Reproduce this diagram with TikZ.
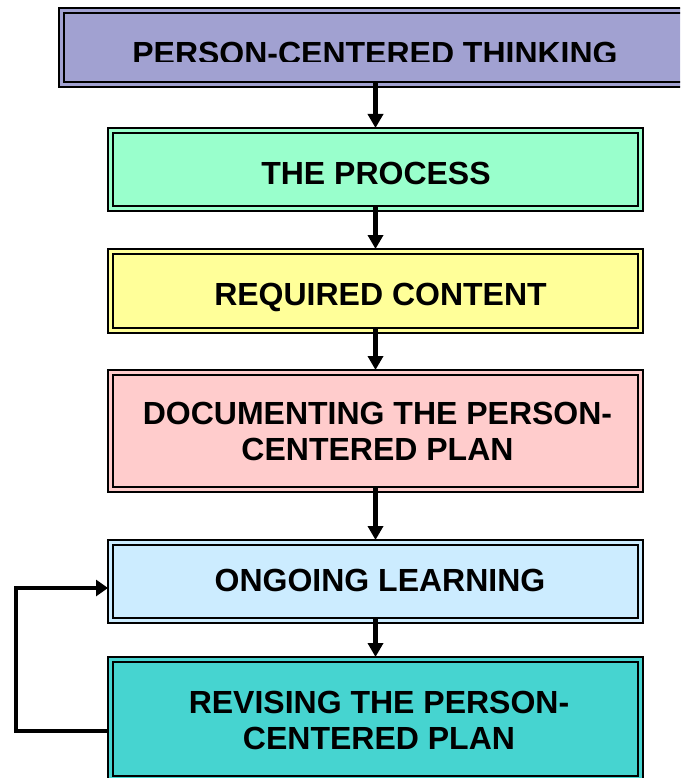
\documentclass[tikz,border=0pt]{standalone}
\usepackage{fontspec}
\setmainfont{Liberation Sans}
\usetikzlibrary{arrows.meta,calc}
\definecolor{fillthink}{RGB}{161,161,209}
\definecolor{fillprocess}{RGB}{153,255,204}
\definecolor{fillcontent}{RGB}{255,255,153}
\definecolor{filldoc}{RGB}{255,204,204}
\definecolor{filllearn}{RGB}{204,236,255}
\definecolor{fillrevise}{RGB}{70,212,208}
\begin{document}
\begin{tikzpicture}[x=1pt,y=-1pt,
  box/.style={draw=black, line width=1.6pt, inner sep=0pt, outer sep=0pt,
              minimum width=535pt},
  innerline/.style={draw=black, line width=2.4pt},
  boxtext/.style={font=\bfseries\fontsize{32}{36}\selectfont, inner sep=0pt,
                  align=center},
  flow/.style={line width=4.5pt, -{Triangle[length=14pt,width=15pt]}},
  backflow/.style={line width=4.5pt, -{Triangle[length=12pt,width=16pt]}},
]
\useasboundingbox (0,0) rectangle (680,778);
\clip (0,0) rectangle (680,778);

% outer frames with fill
\node[box, fill=fillthink,   minimum width=641pt, minimum height=79pt]  (b1) at (379.5,47.5) {};
\node[box, fill=fillprocess, minimum height=83pt]  (b2) at (375.5,169.5) {};
\node[box, fill=fillcontent, minimum height=84pt]  (b3) at (375.5,291) {};
\node[box, fill=filldoc,     minimum height=122pt] (b4) at (375.5,431) {};
\node[box, fill=filllearn,   minimum height=83pt]  (b5) at (375.5,581.5) {};
\node[box, fill=fillrevise,  minimum height=124pt] (b6) at (375.5,719) {};

% inner frames
\foreach \n in {b1,b2,b3,b4,b5,b6}
  \draw[innerline] ([shift={(5,5)}]\n.north west) rectangle ([shift={(-5,-5)}]\n.south east);

% labels
\begin{scope}
  \clip (0,0) rectangle (680,61.5);
  \node[boxtext, anchor=base] (t1) at (375,65) {PERSON-CENTERED THINKING};
\end{scope}
\node[boxtext, anchor=base] (t2) at (376,185) {THE PROCESS};
\node[boxtext, anchor=base] (t3) at (380.5,305) {REQUIRED CONTENT};
\node[boxtext] (t4) at (377.5,431) {DOCUMENTING THE PERSON-\\CENTERED PLAN};
\node[boxtext, anchor=base] (t5) at (380,591) {ONGOING LEARNING};
\node[boxtext] (t6) at (379,720) {REVISING THE PERSON-\\CENTERED PLAN};

% downward flow
\foreach \a/\b in {b1/b2,b2/b3,b3/b4,b4/b5,b5/b6}
  \draw[flow] ($(\a.south -| \b.north)+(0,-5)$) -- (\b.north);

% feedback loop from revising back to ongoing learning
\draw[backflow] ($(b6.west)+(0,12)$) -| ($(b5.west)+(-92,6.5)$) -- ($(b5.west)+(0,6.5)$);
\end{tikzpicture}
\end{document}
